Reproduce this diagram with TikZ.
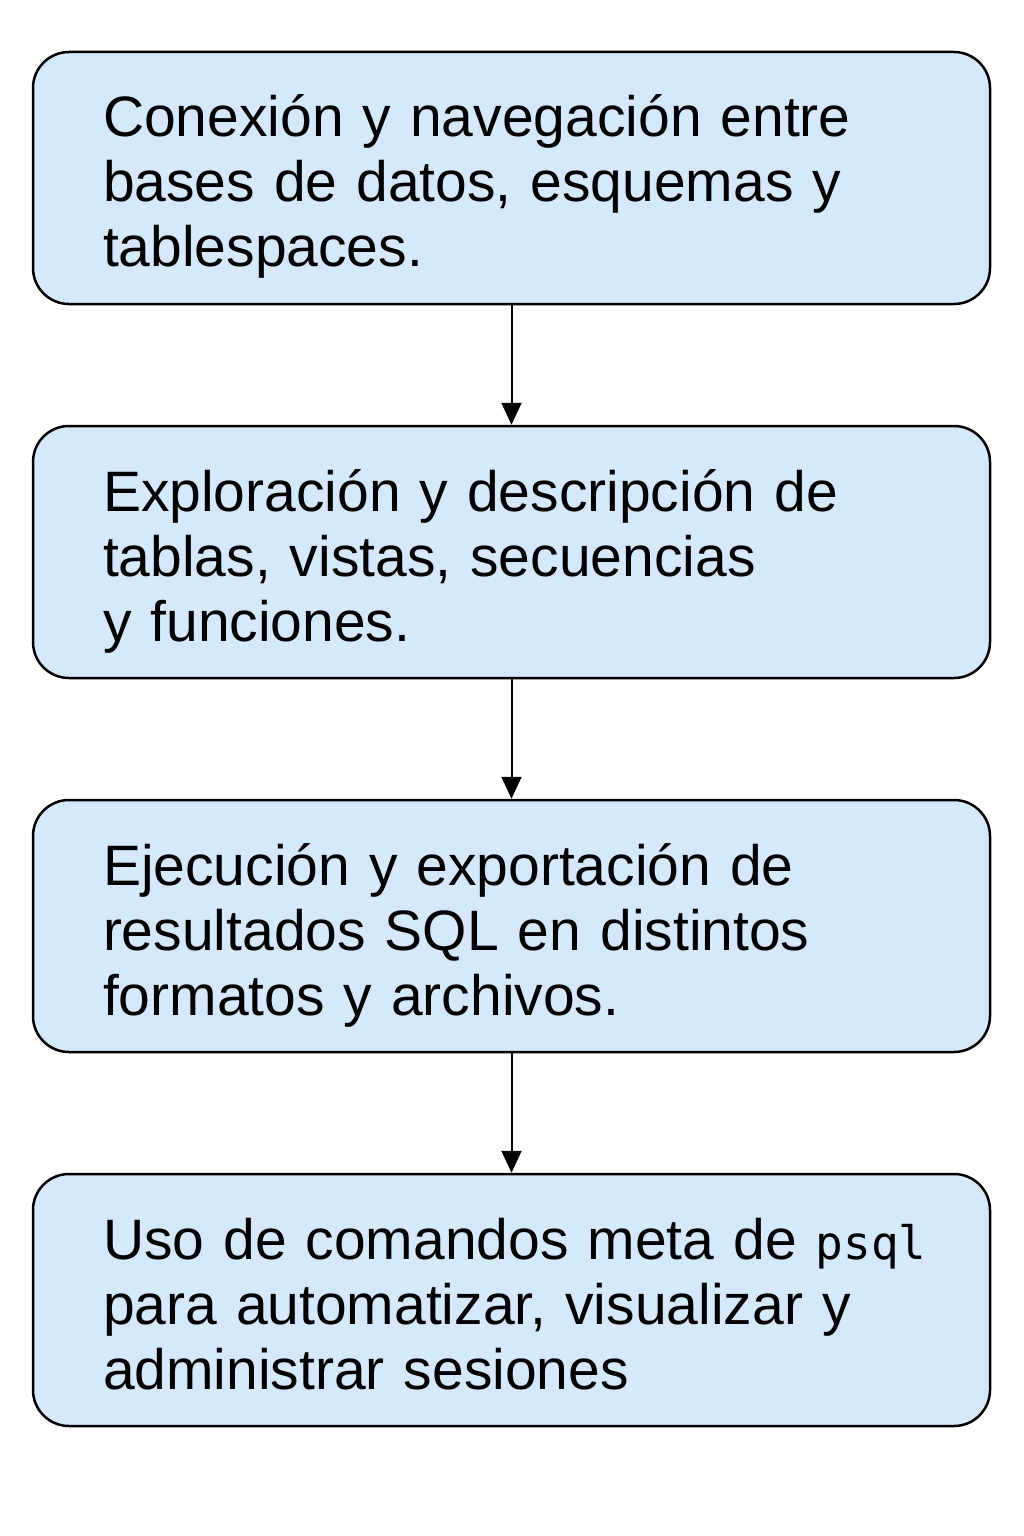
\documentclass[tikz,border=0pt]{standalone}
\usepackage{fontspec}
\setmainfont{Liberation Sans}
\newfontfamily\psqlfont{DejaVu Sans Mono}
\usetikzlibrary{positioning,arrows.meta}
\definecolor{boxblue}{RGB}{214,232,252}

\begin{document}
\begin{tikzpicture}[x=1pt, y=1pt,
        stage/.style={draw, line width=2.5pt, fill=boxblue, rounded corners=36pt,
            minimum width=957pt, minimum height=252pt, text width=817pt,
            inner xsep=70pt, align=left,
            font=\fontsize{57}{65}\selectfont,
            execute at begin node=\rule{0pt}{62pt},
            execute at end node=\rule[-14pt]{0pt}{14pt}},
        flow/.style={-{Triangle[length=22pt,width=20pt]}, line width=2pt},
        node distance=119.5pt]
        \useasboundingbox (0,0) rectangle (1024,-1536);

        \node[stage] (conexion) at (511.5,-178) {Conexión y navegación entre\\
            bases de datos, esquemas y\\ tablespaces.};
        \node[stage, below=of conexion] (exploracion) {Exploración y descripción de\\
            tablas, vistas, secuencias\\ y funciones.};
        \node[stage, below=of exploracion] (ejecucion) {Ejecución y exportación de\\
            resultados SQL en distintos\\ formatos y archivos.};
        \node[stage, below=of ejecucion] (comandos) {\mbox{Uso de comandos meta de
            {\psqlfont\fontsize{46}{65}\selectfont psql}}\\
            para automatizar, visualizar y\\ administrar sesiones};

        \draw[flow] (conexion) -- (exploracion);
        \draw[flow] (exploracion) -- (ejecucion);
        \draw[flow] (ejecucion) -- (comandos);
    \end{tikzpicture}
\end{document}
